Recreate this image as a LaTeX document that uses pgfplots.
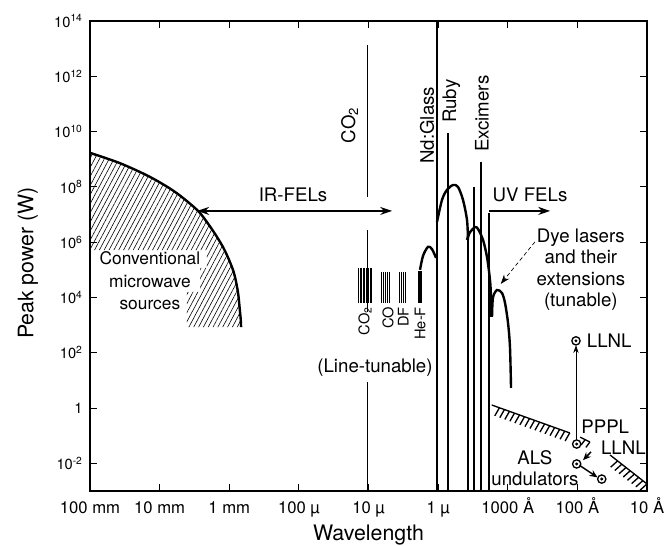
\documentclass[border=0pt]{standalone}
\usepackage{fontspec}
\setmainfont{TeX Gyre Heros}
\usepackage{pgfplots}
\pgfplotsset{compat=1.18}
\usetikzlibrary{arrows.meta,patterns.meta,decorations.pathreplacing}
\newcommand\lab{\fontsize{14}{16}\selectfont}
\begin{document}
\begin{tikzpicture}
\begin{axis}[
 at={(0pt,0pt)}, anchor=south west,
 scale only axis, width=417.75pt, height=352.5pt,
 xmin=0, xmax=8, ymode=log, ymin=1e-3, ymax=1e14,
 xtick={0,1,2,3,4,5,6,7,8},
 xticklabels={100 mm,10 mm,1 mm,100 µ,10 µ,1 µ,1000 Å,100 Å,10 Å},
 ytick={1e-2,1,1e2,1e4,1e6,1e8,1e10,1e12,1e14},
 yticklabels={10\textsuperscript{-2},1,10\textsuperscript{2},10\textsuperscript{4},10\textsuperscript{6},10\textsuperscript{8},10\textsuperscript{10},10\textsuperscript{12},10\textsuperscript{14}},
 xminorticks=false, yminorticks=false,
 tick align=inside, major tick length=5pt,
 axis line style={line width=1.3pt},
 every tick/.style={black, line width=0.7pt},
 xticklabel style={font=\fontsize{12.5}{15}\selectfont, anchor=base, yshift=-16.5pt},
 yticklabel style={font=\fontsize{11}{13}\selectfont, xshift=-2pt},
 xlabel={Wavelength}, ylabel={Peak power (W)},
 every axis x label/.style={at={([yshift=-33pt]axis description cs:0.5,0)}, anchor=center, font=\fontsize{16}{19}\selectfont},
 every axis y label/.style={at={([xshift=-46.5pt]axis description cs:0,0.485)}, rotate=90, anchor=center, font=\fontsize{16}{19}\selectfont},
 clip=false,
]
% conventional microwave sources (hatched)
\addplot[draw=none, pattern={Lines[angle=62,distance=3.2pt,line width=0.45pt]}] coordinates {
 (0,1.7e9) (0.43,7.2e8) (0.86,2.3e8) (1.22,6.6e7) (1.54,1.45e7) (1.70,4.5e6) (1.82,1.6e6) (1.92,6e5) (2.00,2.2e5) (2.06,8.9e4) (2.10,3.5e4) (2.13,1.26e4) (2.15,4e3) (2.165,1.6e3) (2.17,850)
 (1.39,850) (1.39,1.6e4) (1.58,1.6e4) (1.58,1.17e5) (1.68,1.17e5) (1.68,5.2e5) (0,5.2e5)} -- cycle;
\addplot[line width=1.8pt, smooth] coordinates {
 (0,1.7e9) (0.43,7.2e8) (0.86,2.3e8) (1.22,6.6e7) (1.54,1.45e7) (1.70,4.5e6) (1.82,1.6e6) (1.92,6e5) (2.00,2.2e5) (2.06,8.9e4) (2.10,3.5e4) (2.13,1.26e4) (2.15,4e3) (2.165,1.6e3) (2.17,850)};
\node[align=center, font=\fontsize{13}{17}\selectfont] at (axis cs:0.86,4e4) {Conventional\\microwave\\sources};
% IR FELs
\addplot[{Stealth[length=9pt,width=6pt]}-{Stealth[length=9pt,width=6pt]}, line width=1pt] coordinates {(1.54,1.35e7) (4.34,1.35e7)};
\node[font=\lab] at (axis cs:2.916,5.1e7) {IR-FELs};
% CO2 line
\addplot[line width=0.9pt] coordinates {(3.98,1.35e13) (3.98,4.3e7)};
\addplot[line width=0.9pt] coordinates {(3.98,2.75e6) (3.98,3e3)};
\addplot[line width=0.9pt] coordinates {(3.98,8.7) (3.98,1e-3)};
\node[font=\lab, rotate=90, inner sep=0pt] at (axis cs:3.73,1.7e10) {CO\textsubscript{2}};
% line-tunable bars
\addplot[line width=0.6pt, unbounded coords=jump] coordinates {
 (3.849,1.17e5) (3.849,6.3e3) (3.849,nan)
 (3.878,1.17e5) (3.878,6.3e3) (3.878,nan)
 (3.892,1.17e5) (3.892,6.3e3) (3.892,nan)
 (3.921,1.17e5) (3.921,6.3e3) (3.921,nan)
 (3.935,1.17e5) (3.935,6.3e3) (3.935,nan)
 (3.964,1.17e5) (3.964,6.3e3) (3.964,nan)
 (3.993,1.17e5) (3.993,6.3e3) (3.993,nan)
 (4.021,1.17e5) (4.021,6.3e3) (4.021,nan)
 (4.036,1.17e5) (4.036,6.3e3) (4.036,nan)
 (4.180,8.3e4) (4.180,6.3e3) (4.180,nan)
 (4.208,8.3e4) (4.208,6.3e3) (4.208,nan)
 (4.237,8.3e4) (4.237,6.3e3) (4.237,nan)
 (4.266,8.3e4) (4.266,6.3e3) (4.266,nan)
 (4.294,8.3e4) (4.294,6.3e3) (4.294,nan)
 (4.438,8.3e4) (4.438,6.3e3) (4.438,nan)
 (4.467,8.3e4) (4.467,6.3e3) (4.467,nan)
 (4.496,8.3e4) (4.496,6.3e3) (4.496,nan)
 (4.524,8.3e4) (4.524,6.3e3)};
\addplot[line width=2.4pt] coordinates {(4.74,9e4) (4.74,6.5e3)};
\node[font=\fontsize{11}{13}\selectfont, rotate=90, anchor=east, inner sep=0pt] at (axis cs:3.95,4.6e3) {CO\textsubscript{2}};
\node[font=\fontsize{11}{13}\selectfont, rotate=90, anchor=east, inner sep=0pt] at (axis cs:4.28,4.6e3) {CO};
\node[font=\fontsize{11}{13}\selectfont, rotate=90, anchor=east, inner sep=0pt] at (axis cs:4.50,4.6e3) {DF};
\node[font=\fontsize{11}{13}\selectfont, rotate=90, anchor=east, inner sep=0pt] at (axis cs:4.74,4.6e3) {He-F};
\node[font=\lab] at (axis cs:4.093,28) {(Line-tunable)};
% solid-state / gas lasers lines
\addplot[line width=0.9pt] coordinates {(4.984,1e14) (4.984,1e-3)};
\node[font=\lab, rotate=90, inner sep=0pt] at (axis cs:4.84,1.7e10) {Nd:Glass};
\addplot[line width=0.9pt] coordinates {(5.142,8.9e9) (5.142,1e-3)};
\node[font=\lab, rotate=90, inner sep=0pt] at (axis cs:5.19,1.26e11) {Ruby};
\addplot[line width=0.9pt] coordinates {(5.429,1.2e6) (5.429,1e-3)};
\addplot[line width=0.9pt] coordinates {(5.515,1e8) (5.515,1e-3)};
\addplot[line width=0.9pt] coordinates {(5.616,8e8) (5.616,1e-3)};
\addplot[line width=0.9pt] coordinates {(5.731,1.15e7) (5.731,1e-3)};
\node[font=\lab, rotate=90, inner sep=0pt] at (axis cs:5.63,4.4e10) {Excimers};
% UV FELs
\addplot[-{Stealth[length=9pt,width=6pt]}, line width=1pt] coordinates {(5.731,1.35e7) (6.61,1.35e7)};
\node[font=\lab] at (axis cs:6.32,5.1e7) {UV FELs};
% power curves
\addplot[line width=1.8pt, smooth] coordinates {(4.740,1e5) (4.783,3.2e5) (4.855,6.8e5) (4.912,5.6e5) (4.970,2.7e5)};
\addplot[line width=1.8pt, smooth] coordinates {(4.984,5.4e6) (5.056,3.4e7) (5.127,7.8e7) (5.214,1.17e8) (5.285,1e8) (5.357,3.4e7) (5.415,6.3e6) (5.429,1.2e6)};
\addplot[line width=1.8pt, smooth] coordinates {(5.415,1.2e6) (5.458,2.3e6) (5.530,3.5e6) (5.573,3e6) (5.645,1.2e6) (5.702,2.9e5) (5.745,4.3e4) (5.760,1e4) (5.765,2e3)};
\addplot[line width=1.8pt, smooth] coordinates {(5.774,2e3) (5.788,1e4) (5.846,1.86e4) (5.917,1.45e4) (5.961,6.3e3) (6.004,1.2e3) (6.032,160) (6.047,5.4)};
% dye lasers
\addplot[densely dashed, line width=0.5pt, -{Stealth[length=7pt,width=5pt]}] coordinates {(6.39,1.02e6) (5.90,3.1e4)};
\node[align=center, font=\fontsize{14}{16}\selectfont] at (axis cs:7.05,1e5) {Dye lasers\\and their\\extensions\\(tunable)};
% undulators
\addplot[line width=1pt, postaction={decorate}, decoration={border, segment length=4pt, amplitude=7pt, angle=80}] coordinates {(6.89,0.126) (5.77,1.29)};
\addplot[line width=1pt, postaction={decorate}, decoration={border, segment length=4pt, amplitude=5pt, angle=80}] coordinates {(7.18,0.059) (7.04,0.089)};
\addplot[line width=1pt, postaction={decorate}, decoration={border, segment length=4pt, amplitude=7pt, angle=80}] coordinates {(8.0,0.0018) (7.47,0.02)};
% LLNL / PPPL / ALS points
\addplot[line width=0.6pt, -{Stealth[length=6pt,width=4pt]}] coordinates {(6.98,0.07) (6.98,190)};
\addplot[line width=1.1pt, -{Stealth[length=6pt,width=5pt]}] coordinates {(7.03,0.0085) (7.29,0.0031)};
\addplot[line width=1.1pt, -{Stealth[length=6pt,width=5pt]}] coordinates {(7.196,0.026) (7.081,0.013)};
\addplot[only marks, mark=o, mark size=3.1pt, mark options={line width=1pt, fill=white}] coordinates {(6.98,270) (6.99,0.05) (6.99,0.0095) (7.35,0.0027)};
\addplot[only marks, mark=*, mark size=0.9pt] coordinates {(6.98,270) (6.99,0.05) (6.99,0.0095) (7.35,0.0027)};
\node[font=\lab, anchor=west] at (axis cs:7.07,270) {LLNL};
\node[font=\lab] at (axis cs:7.40,0.21) {PPPL};
\node[font=\lab] at (axis cs:7.66,0.038) {LLNL};
\node[font=\lab] at (axis cs:6.39,0.0155) {ALS};
\node[font=\lab] at (axis cs:6.39,0.0027) {undulators};
\end{axis}
\pgfresetboundingbox
\useasboundingbox (-67.5pt,-41.25pt) rectangle (430.5pt,368.25pt);
\end{tikzpicture}
\end{document}
